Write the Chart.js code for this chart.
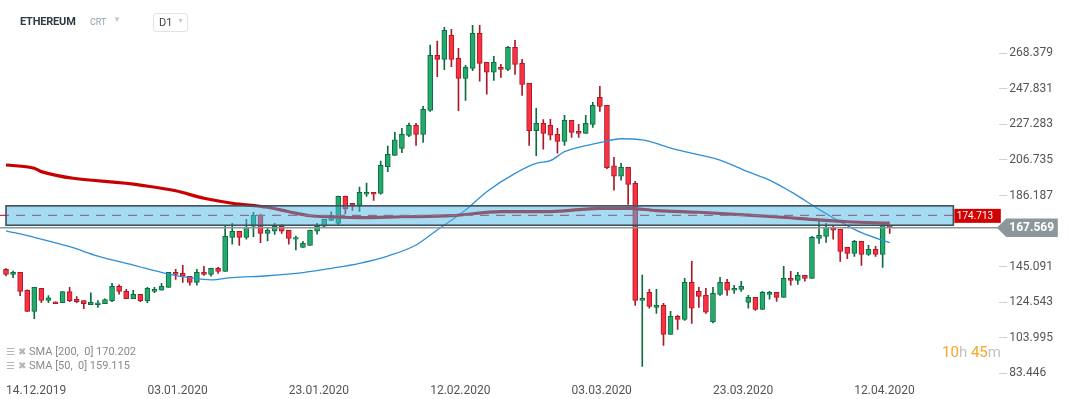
<!DOCTYPE html>
<html>
<head>
<meta charset="utf-8">
<script src="https://cdn.jsdelivr.net/npm/chart.js@4.4.1/dist/chart.umd.min.js"></script>
<style>
  html, body { margin: 0; padding: 0; background: #fff; }
  #wrap { position: relative; width: 1069px; height: 399px; overflow: hidden; font-family: Roboto, "Noto Sans", sans-serif; }
  canvas { position: absolute; left: 0; top: 0; }
  .ov { position: absolute; white-space: pre; }
  #title { left: 20px; top: 15px; font-size: 11px; font-weight: bold; color: #2f3a45; letter-spacing: -0.2px; }
  #crt { left: 90px; top: 17px; font-size: 9px; color: #8fa0ab; }
  #tri1 { left: 113px; top: 15px; font-size: 8px; color: #c8c8c8; }
  #tf { left: 153px; top: 13px; width: 33px; height: 17px; border: 1px solid #e3e3e3; border-radius: 3px; }
  #tf span.t { position: absolute; left: 5px; top: 2px; font-size: 11px; color: #444; }
  #tf span.a { position: absolute; left: 23px; top: 3px; font-size: 7px; color: #c8c8c8; }
  .leg { left: 6px; font-size: 11px; color: #8a8a8a; }
  .leg .ic { font-size: 10px; color: #b5b5b5; margin-right: 3px; }
  #timer { left: 942px; top: 343px; font-size: 15px; }
  #timer .o { color: #f5a623; }
  #timer .g { color: #c4c4c4; }
</style>
</head>
<body>
<div id="wrap">
  <canvas id="c" width="1069" height="399"></canvas>
  <div class="ov" id="title">ETHEREUM</div>
  <div class="ov" id="crt">CRT</div>
  <div class="ov" id="tri1">▼</div>
  <div class="ov" id="tf"><span class="t">D1</span><span class="a">▼</span></div>
  <div class="ov leg" style="top:345px"><span class="ic">☰</span><span class="ic">✖</span>SMA [200,  0] 170.202</div>
  <div class="ov leg" style="top:359px"><span class="ic">☰</span><span class="ic">✖</span>SMA [50,  0] 159.115</div>
  <div class="ov" id="timer"><span class="o">10</span><span class="g">h</span> <span class="o">45</span><span class="g">m</span></div>
</div>
<script>
// ---------- DATA ----------
const startDate = [2019, 11, 14];   // first candle: 14.12.2019
const dayCount = 141;               // days on the axis (incl. empty future space)
const xTickLabels = ['14.12.2019','03.01.2020','23.01.2020','12.02.2020','03.03.2020','23.03.2020','12.04.2020'];
const yTickValues = [268.379, 247.831, 227.283, 206.735, 186.187, 145.091, 124.543, 103.995, 83.446];

const open = [143.5,140.6,141.8,131.4,119.2,132.5,125.6,124.8,124.2,130.6,
  126.2,125.4,123.1,123.1,123.7,125.4,133.7,130.8,126.5,129.1,
  125.4,130.8,131.4,133.1,141.8,141.2,139.5,136.0,141.8,140.6,
  144.1,142.3,162.0,165.5,162.0,168.4,174.7,164.3,165.5,168.4,
  166.1,160.9,156.2,157.4,165.5,168.4,171.8,170.1,185.7,181.7,
  180.5,186.9,188.0,187.4,202.9,209.4,213.4,220.9,226.7,221.5,
  235.4,267.2,264.9,278.8,265.5,253.9,259.7,279.9,263.2,257.4,
  260.3,259.1,271.8,262.6,251.0,223.7,227.9,226.7,221.5,217.5,
  229.6,223.3,222.1,227.3,242.9,238.3,203.4,197.3,202.5,193.2,
  125.6,130.2,121.5,122.7,105.9,116.3,114.6,136.0,130.8,128.5,
  113.2,129.0,136.0,131.4,131.9,124.4,127.3,120.4,129.0,130.2,
  127.3,138.3,137.1,140.0,138.3,161.4,162.6,167.8,166.6,156.2,
  152.7,159.7,152.2,155.1,152.2,168.9];
const high = [143.9,142.5,141.8,131.6,133.1,132.5,128.3,124.8,130.6,133.1,
  127.7,125.4,130.0,125.4,126.5,135.4,134.5,131.9,131.4,129.1,
  133.1,133.1,135.4,141.8,143.5,145.8,139.5,143.5,145.3,144.1,
  144.7,168.4,170.1,165.5,172.4,176.5,175.5,167.8,170.1,169.5,
  166.1,162.8,159.7,166.2,170.1,172.4,176.8,185.9,185.9,181.7,
  191.1,193.4,188.0,206.1,214.8,222.7,225.0,228.1,227.9,237.7,
  273.2,275.5,283.4,282.2,271.2,261.4,284.5,284.5,263.2,266.6,
  262.0,272.4,275.9,264.9,251.0,236.6,230.0,230.2,225.0,232.5,
  229.6,227.3,232.5,240.0,249.3,238.3,208.2,204.8,202.5,194.4,
  140.2,131.9,131.9,123.9,119.2,116.9,138.3,148.1,133.1,132.5,
  133.1,138.9,137.7,134.3,136.6,128.5,127.3,130.8,130.8,130.2,
  145.2,142.3,141.8,140.0,162.6,171.8,170.1,168.9,166.6,156.2,
  160.3,159.7,157.4,156.8,170.1,168.9];
const low = [139.7,138.7,128.3,119.0,115.0,124.2,124.2,123.7,124.2,124.8,
  124.2,120.8,123.1,121.5,123.7,124.8,129.1,126.5,126.5,124.8,
  124.2,130.0,131.4,133.1,137.7,136.0,134.3,134.3,140.0,139.5,
  141.2,142.3,158.0,157.4,160.9,162.4,158.9,159.9,163.7,164.3,
  158.0,154.7,156.2,157.4,163.9,168.0,171.8,168.9,175.5,177.6,
  177.0,185.7,183.4,186.9,200.0,209.4,210.9,220.2,215.2,216.9,
  234.8,254.9,258.9,260.6,235.2,241.2,258.3,252.2,244.7,252.7,
  254.5,258.3,256.2,244.1,215.2,209.2,212.9,218.3,210.6,215.2,
  219.8,219.8,222.1,225.6,234.8,201.7,189.2,195.0,181.1,122.7,
  87.4,121.0,118.1,99.6,105.9,108.8,114.0,112.3,121.5,118.1,
  112.5,128.5,128.5,129.6,130.8,121.0,119.8,120.4,126.2,125.0,
  127.3,134.3,134.8,136.6,138.3,158.5,159.1,160.9,148.1,149.7,
  151.0,145.8,151.6,151.0,144.6,164.3];
const close = [140.6,141.8,130.8,119.2,133.1,125.6,127.1,123.7,130.6,125.4,
  124.8,123.7,124.4,124.2,126.0,133.7,130.8,126.5,129.1,125.4,
  132.5,131.9,133.7,141.8,140.6,139.5,136.0,141.8,140.6,144.1,
  142.3,162.6,165.5,162.0,167.8,174.7,164.3,166.1,168.4,165.5,
  161.4,161.9,158.5,166.1,168.4,172.4,174.7,185.7,178.4,180.5,
  188.0,188.0,186.9,203.6,210.0,218.3,221.5,226.7,221.5,236.0,
  267.2,264.9,281.6,264.9,253.9,260.3,279.9,262.6,257.4,263.2,
  259.1,271.8,262.0,250.4,223.7,227.9,222.1,221.0,217.5,229.6,
  222.7,222.1,227.9,238.3,237.7,202.3,197.3,202.5,192.6,125.6,
  126.7,122.1,122.7,105.9,116.3,114.6,136.0,121.0,127.9,118.7,
  129.6,136.0,131.4,132.5,133.7,127.3,120.4,130.2,130.2,127.3,
  138.3,137.1,140.0,138.3,162.0,163.2,167.8,166.1,153.9,152.7,
  159.7,152.2,155.1,152.2,168.9,167.569];

// SMA readings: [candle index, value]
const sma200 = [[0,203.8],[4,201.9],[5,200.0],[19,192.2],[24,188.9],[28,184.6],[32,181.7],[37,179.4],
  [40,176.8],[43,174.5],[46,173.9],[50,173.4],[56,173.9],[63,174.5],[70,176.9],[77,176.9],[84,178.8],
  [88,178.8],[92,177.5],[98,176.5],[105,174.9],[112,173.0],[119,171.0],[125,170.2]];
const sma50 = [[0,165.8],[4,162.0],[9,156.6],[13,151.2],[18,146.0],[23,140.8],[26,138.7],[29,137.4],
  [32,138.7],[37,139.8],[42,141.6],[46,144.1],[50,147.0],[54,151.2],[58,157.6],[61,166.3],[65,177.8],
  [68,188.4],[72,199.0],[75,204.8],[77,206.3],[79,211.5],[84,216.7],[87,219.0],[90,218.3],[95,212.5],
  [101,206.7],[105,199.8],[108,195.1],[111,188.4],[115,178.2],[118,171.0],[121,164.7],[125,158.9]];

const zoneHigh = 180.2, zoneLow = 169.0, zoneLevel = 174.713;
const zoneFromLabel = '14.12.2019', zoneToLabel = '26.04.2020';
const lastPrice = 167.569;

// ---------- BUILD ----------
const labels = [];
for (let i = 0; i < dayCount; i++) {
  const d = new Date(Date.UTC(startDate[0], startDate[1], startDate[2] + i));
  const dd = String(d.getUTCDate()).padStart(2, '0');
  const mm = String(d.getUTCMonth() + 1).padStart(2, '0');
  labels.push(dd + '.' + mm + '.' + d.getUTCFullYear());
}
const up = close.map((c, i) => c >= open[i]);
const GREEN_F = '#22ab6c', GREEN_B = '#0d6d40', RED_F = '#fb3142', RED_B = '#a81b29';
const bodies = open.map((o, i) => [Math.min(o, close[i]), Math.max(o, close[i])]);
const wicks = low.map((l, i) => [l, high[i]]);
function sparse(pairs) {
  const a = new Array(open.length).fill(null);
  pairs.forEach(p => { a[p[0]] = p[1]; });
  return a;
}

const overlay = {
  id: 'overlay',
  afterDatasetsDraw(chart) {
    const { ctx, scales: { x, y }, chartArea } = chart;
    const x0 = x.getPixelForValue(labels.indexOf(zoneFromLabel));
    const x1 = x.getPixelForValue(labels.indexOf(zoneToLabel));
    const yT = y.getPixelForValue(zoneHigh), yB = y.getPixelForValue(zoneLow);
    const yL = y.getPixelForValue(zoneLevel);
    const yP = y.getPixelForValue(lastPrice);
    ctx.save();
    ctx.strokeStyle = '#c8323c'; ctx.lineWidth = 1.3; ctx.setLineDash([9, 7]);
    ctx.beginPath(); ctx.moveTo(0, yL); ctx.lineTo(x1, yL); ctx.stroke();
    ctx.setLineDash([]);
    ctx.fillStyle = 'rgba(73,184,230,0.49)';
    ctx.fillRect(x0, yT, x1 - x0, yB - yT);
    ctx.strokeStyle = '#3e505c'; ctx.lineWidth = 1.6;
    ctx.strokeRect(x0, yT, x1 - x0, yB - yT);
    ctx.strokeStyle = '#8c979c'; ctx.lineWidth = 1.5;
    ctx.beginPath(); ctx.moveTo(0, yP); ctx.lineTo(chartArea.right, yP); ctx.stroke();
    ctx.restore();
  },
  afterDraw(chart) {
    const { ctx, scales: { x, y }, chartArea } = chart;
    const x1 = x.getPixelForValue(labels.indexOf(zoneToLabel));
    const yL = y.getPixelForValue(zoneLevel);
    const yP = y.getPixelForValue(lastPrice);
    ctx.save();
    ctx.fillStyle = '#d20000';
    ctx.fillRect(x1 + 1, yL - 6.5, chartArea.right + 1.5 - (x1 + 1), 14);
    ctx.fillStyle = '#ffffff'; ctx.font = '10px Roboto'; ctx.textBaseline = 'middle'; ctx.textAlign = 'left';
    ctx.fillText(zoneLevel.toFixed(3), x1 + 3.5, yL + 0.8);
    const r = chartArea.right;
    ctx.fillStyle = '#8c979c';
    ctx.beginPath();
    ctx.moveTo(r - 2.5, yP);
    ctx.lineTo(r + 7, yP - 9.2);
    ctx.lineTo(r + 58.5, yP - 9.2);
    ctx.lineTo(r + 58.5, yP + 9.2);
    ctx.lineTo(r + 7, yP + 9.2);
    ctx.closePath(); ctx.fill();
    ctx.fillStyle = '#ffffff'; ctx.font = 'bold 12px Roboto';
    ctx.fillText(lastPrice.toFixed(3), r + 10, yP + 0.5);
    ctx.restore();
  }
};

Chart.defaults.font.family = 'Roboto';
new Chart(document.getElementById('c'), {
  type: 'bar',
  data: {
    labels: labels,
    datasets: [
      { type: 'line', label: 'SMA 200', data: sparse(sma200), borderColor: '#c90000', borderWidth: 3.2,
        pointRadius: 0, spanGaps: true, cubicInterpolationMode: 'monotone', order: 0 },
      { type: 'line', label: 'SMA 50', data: sparse(sma50), borderColor: '#2f8fd6', borderWidth: 1.3,
        pointRadius: 0, spanGaps: true, cubicInterpolationMode: 'monotone', order: 0 },
      { label: 'body', data: bodies, backgroundColor: up.map(u => u ? GREEN_F : RED_F),
        borderColor: up.map(u => u ? GREEN_B : RED_B), borderWidth: 1, borderSkipped: false,
        barThickness: 5, grouped: false, order: 1 },
      { label: 'wick', data: wicks, backgroundColor: up.map(u => u ? GREEN_B : RED_B),
        borderWidth: 0, barThickness: 1, grouped: false, order: 2 }
    ]
  },
  options: {
    responsive: false, animation: false, devicePixelRatio: 1, events: [],
    layout: { padding: { left: 2.47, top: 10, right: 0, bottom: 0 } },
    plugins: { legend: { display: false }, tooltip: { enabled: false } },
    scales: {
      x: {
        offset: true,
        grid: { display: false }, border: { display: false },
        ticks: {
          autoSkip: false, maxRotation: 0, align: 'start', padding: 1,
          color: '#555', font: { size: 12 },
          callback: function (v, i) { const l = labels[i]; return xTickLabels.includes(l) ? l : ''; }
        },
        afterFit: s => { s.height = 24; }
      },
      y: {
        position: 'right', min: 82.436, max: 293.406,
        grid: { drawOnChartArea: false, drawTicks: true, tickLength: 8, color: '#cfcfcf' },
        border: { display: false },
        afterBuildTicks: s => { s.ticks = yTickValues.map(v => ({ value: v })); },
        ticks: { padding: 2, color: '#555', font: { size: 12 }, callback: v => Number(v).toFixed(3) },
        afterFit: s => { s.width = 69.7; }
      }
    }
  },
  plugins: [overlay]
});
</script>
</body>
</html>
